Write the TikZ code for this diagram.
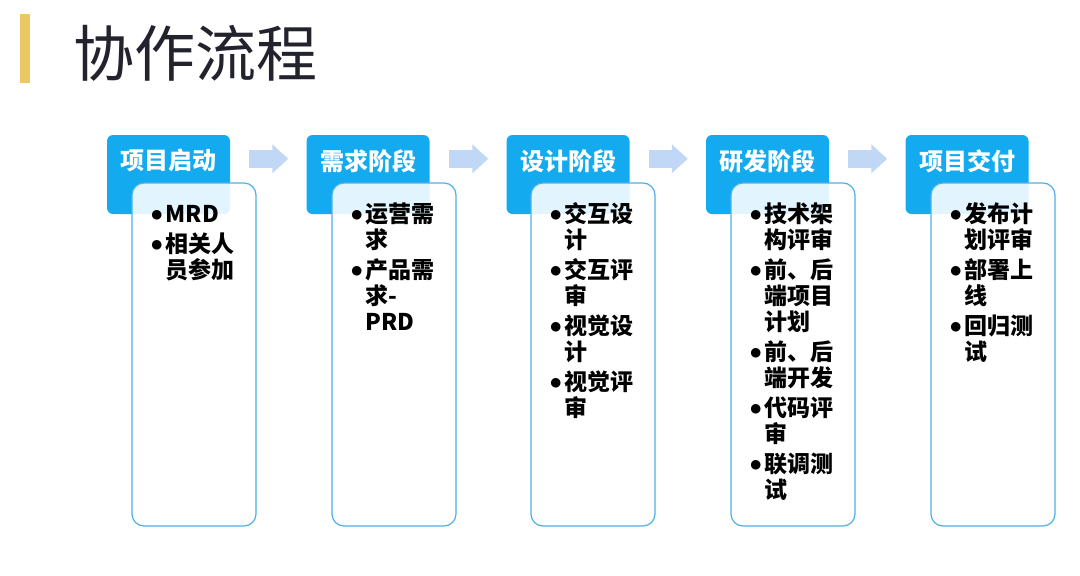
\documentclass[tikz,border=0pt]{standalone}
\usepackage{fontspec}
\setmainfont{Noto Sans CJK SC}
\usepackage{tikz}
\usetikzlibrary{arrows.meta}

\definecolor{headblue}{RGB}{20,170,240}
\definecolor{lineblue}{RGB}{80,176,230}
\definecolor{arrowblue}{RGB}{192,216,245}
\definecolor{baryellow}{RGB}{236,200,100}
\definecolor{titlegray}{RGB}{35,35,45}

\newcommand{\itm}{\makebox[15pt][l]{\raisebox{1.5pt}{$\bullet$}}\rule{0pt}{20pt}}
\newcommand{\ind}{\makebox[15pt][l]{}\rule{0pt}{20pt}}
\newcommand{\listfont}{\fontsize{23}{26}\selectfont\bfseries\lineskiplimit=-20pt\relax}

\tikzset{
  headbox/.style={draw=none, fill=headblue, rounded corners=6pt,
    minimum width=123pt, minimum height=79pt, inner sep=0pt},
  headtext/.style={text=white, inner sep=0pt,
    font=\fontsize{24}{28}\selectfont\bfseries},
  bodybox/.style={draw=lineblue, line width=1.2pt, fill=white, fill opacity=0.88,
    rounded corners=12pt, minimum width=124pt, minimum height=343pt, inner sep=0pt},
  listtext/.style={align=left, inner sep=0pt, anchor=north west, font=\listfont},
  flowarrow/.style={draw=arrowblue, line width=18pt,
    -{Triangle[width=28pt, length=16pt]}}
}

\begin{document}
\begin{tikzpicture}[x=1pt, y=-1pt]
  \useasboundingbox (0,0) rectangle (1080,576);

  % Title
  \fill[baryellow] (20,14) rectangle (30,83);
  \node[text=titlegray, anchor=west, inner sep=0pt,
    font=\fontsize{61}{68}\selectfont] (title) at (73,53) {协作流程};

  % Stage headers
  \node[headbox] (H1) at (168.5,174.5) {};
  \node[headbox] (H2) at (368,174.5) {};
  \node[headbox] (H3) at (568,174.5) {};
  \node[headbox] (H4) at (767.5,174.5) {};
  \node[headbox] (H5) at (967,174.5) {};

  % Arrows between stages
  \draw[flowarrow] ([shift={(19,24)}]H1.north east) -- ([shift={(-18,24)}]H2.north west);
  \draw[flowarrow] ([shift={(19,24)}]H2.north east) -- ([shift={(-18,24)}]H3.north west);
  \draw[flowarrow] ([shift={(19,24)}]H3.north east) -- ([shift={(-18,24)}]H4.north west);
  \draw[flowarrow] ([shift={(19,24)}]H4.north east) -- ([shift={(-18,24)}]H5.north west);

  % Stage bodies
  \node[bodybox] (B1) at (194,354.5) {};
  \node[bodybox] (B2) at (394,354.5) {};
  \node[bodybox] (B3) at (593,354.5) {};
  \node[bodybox] (B4) at (793,354.5) {};
  \node[bodybox] (B5) at (993,354.5) {};

  % Header labels
  \node[headtext] (T1) at ([shift={(0,26)}]H1.north) {项目启动};
  \node[headtext] (T2) at ([shift={(0,26)}]H2.north) {需求阶段};
  \node[headtext] (T3) at ([shift={(0,26)}]H3.north) {设计阶段};
  \node[headtext] (T4) at ([shift={(0,26)}]H4.north) {研发阶段};
  \node[headtext] (T5) at ([shift={(0,26)}]H5.north) {项目交付};

  % Task lists
  \node[listtext] (L1) at ([shift={(19,20)}]B1.north west)
    {\itm MRD\\[4pt] \itm 相关人\\ \ind 员参加};
  \node[listtext] (L2) at ([shift={(19,20)}]B2.north west)
    {\itm 运营需\\ \ind 求\\[4pt] \itm 产品需\\ \ind 求-\\ \ind PRD};
  \node[listtext] (L3) at ([shift={(19,20)}]B3.north west)
    {\itm 交互设\\ \ind 计\\[4pt] \itm 交互评\\ \ind 审\\[4pt]
     \itm 视觉设\\ \ind 计\\[4pt] \itm 视觉评\\ \ind 审};
  \node[listtext] (L4) at ([shift={(19,20)}]B4.north west)
    {\itm 技术架\\ \ind 构评审\\[4pt] \itm 前、后\\ \ind 端项目\\ \ind 计划\\[4pt]
     \itm 前、后\\ \ind 端开发\\[4pt] \itm 代码评\\ \ind 审\\[4pt]
     \itm 联调测\\ \ind 试};
  \node[listtext] (L5) at ([shift={(19,20)}]B5.north west)
    {\itm 发布计\\ \ind 划评审\\[4pt] \itm 部署上\\ \ind 线\\[4pt]
     \itm 回归测\\ \ind 试};
\end{tikzpicture}
\end{document}
